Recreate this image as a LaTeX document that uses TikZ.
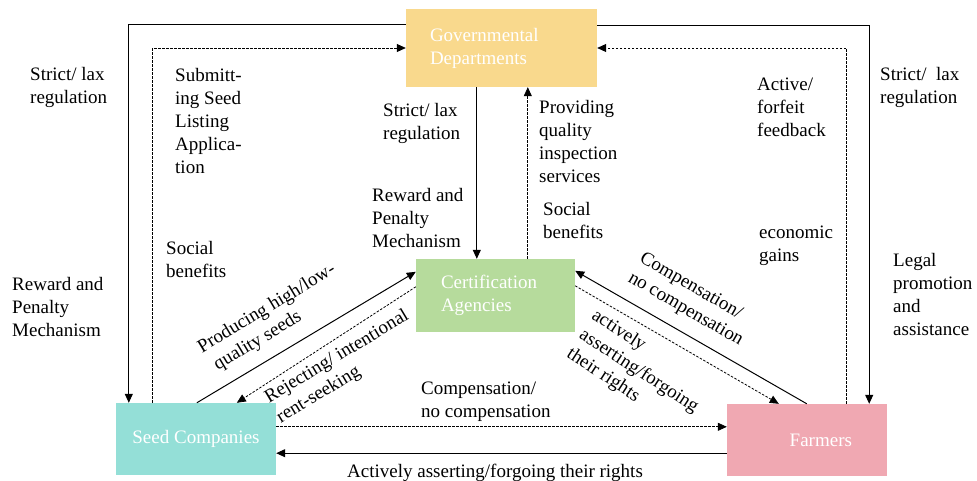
\documentclass[tikz,border=0pt]{standalone}
\usepackage{fontspec}
\setmainfont{Liberation Serif}
\usetikzlibrary{arrows.meta}
\definecolor{govfill}{HTML}{F9D98D}
\definecolor{certfill}{HTML}{B6DB9C}
\definecolor{seedfill}{HTML}{94DFD7}
\definecolor{farmfill}{HTML}{F0A8B2}
\begin{document}
\begin{tikzpicture}[x=1pt,y=-1pt,
    txt/.style={font=\fontsize{19}{23}\selectfont,inner sep=0pt,align=left,anchor=north west},
    actor/.style={font=\fontsize{19}{23}\selectfont,text=white,inner ysep=0pt},
    flow/.style={line width=1pt,-{Triangle[length=9pt,width=8pt]}},
    dflow/.style={line width=0.8pt,dash pattern=on 2.5pt off 1.5pt,-{Triangle[length=9pt,width=8pt]}}]
    \useasboundingbox (0,0) rectangle (977,481);
    \node[actor,fill=govfill,minimum height=78pt,text width=143pt,inner xsep=24pt,align=left] (gov) at (501.5,48) {Governmental\\Departments};
    \node[actor,fill=certfill,minimum height=73pt,text width=109pt,inner xsep=25pt,align=left] (cert) at (495.5,295.5) {Certification\\Agencies};
    \node[actor,fill=seedfill,minimum height=72pt,minimum width=160pt] (seed) at (196,439) {Seed Companies};
    \node[actor,fill=farmfill,minimum height=72pt,text width=90pt,inner xsep=35pt,align=right] (farm) at (807,440) {Farmers};
    \draw[flow] ([yshift=-16pt]gov.north west) -| ([xshift=13pt]seed.north west);
    \draw[dflow] ([xshift=37pt]seed.north west) |- (gov.west);
    \draw[flow] ([yshift=-17pt]gov.north east) -| ([xshift=-18pt]farm.north east);
    \draw[dflow] ([xshift=-41pt]farm.north east) |- (gov.east);
    \coordinate (g1) at ([xshift=71pt]gov.south west);
    \draw[flow] (g1) -- (g1 |- cert.north);
    \coordinate (c1) at ([xshift=112pt]cert.north west);
    \draw[dflow] (c1) -- (c1 |- gov.south);
    \draw[flow] ([xshift=81pt]seed.north west) -- ([yshift=-13pt]cert.north west);
    \draw[dflow] ([yshift=-28pt]cert.north west) -- ([xshift=121pt]seed.north west);
    \draw[flow] ([xshift=80pt]farm.north west) -- ([yshift=-12pt]cert.north east);
    \draw[dflow] ([yshift=-27pt]cert.north east) -- ([xshift=52pt]farm.north west);
    \coordinate (s1) at ([yshift=-24pt]seed.north east);
    \draw[dflow] (s1) -- (s1 -| farm.west);
    \coordinate (f1) at ([yshift=23pt]farm.south west);
    \draw[flow] (f1) -- (f1 -| seed.east);
    \node[txt] (l1) at (30,67) {Strict/ lax\\regulation};
    \node[txt] (l2) at (175,68) {Submitt-\\ing Seed\\Listing\\Applica-\\tion};
    \node[txt] (l3) at (166,241) {Social\\benefits};
    \node[txt] (l4) at (12,277) {Reward and\\Penalty\\Mechanism};
    \node[txt] (l5) at (383,103) {Strict/ lax\\regulation};
    \node[txt] (l6) at (372,188) {Reward and\\Penalty\\Mechanism};
    \node[txt] (l7) at (539,100) {Providing\\quality\\inspection\\services};
    \node[txt] (l8) at (543,202) {Social\\benefits};
    \node[txt] (l9) at (757,78) {Active/\\forfeit\\feedback};
    \node[txt] (l10) at (759,226) {economic\\gains};
    \node[txt] (l11) at (880,67) {Strict/\ \ lax\\regulation};
    \node[txt] (l12) at (893,253) {Legal\\promotion\\and\\assistance};
    \node[txt] (l13) at (421,382) {Compensation/\\no compensation};
    \node[txt] (l14) at (347,464) {Actively asserting/forgoing their rights};
    \node[txt,rotate=31] (l15) at (195,342) {Producing high/low-\\\ quality seeds};
    \node[txt,rotate=31] (l16) at (262,392) {Rejecting/ intentional\\rent-seeking};
    \node[txt,rotate=-30] (l17) at (645,250) {Compensation/\\no compensation};
    \node[txt,rotate=-33] (l18) at (598,307) {actively\\asserting/forgoing\\their rights};
\end{tikzpicture}
\end{document}
